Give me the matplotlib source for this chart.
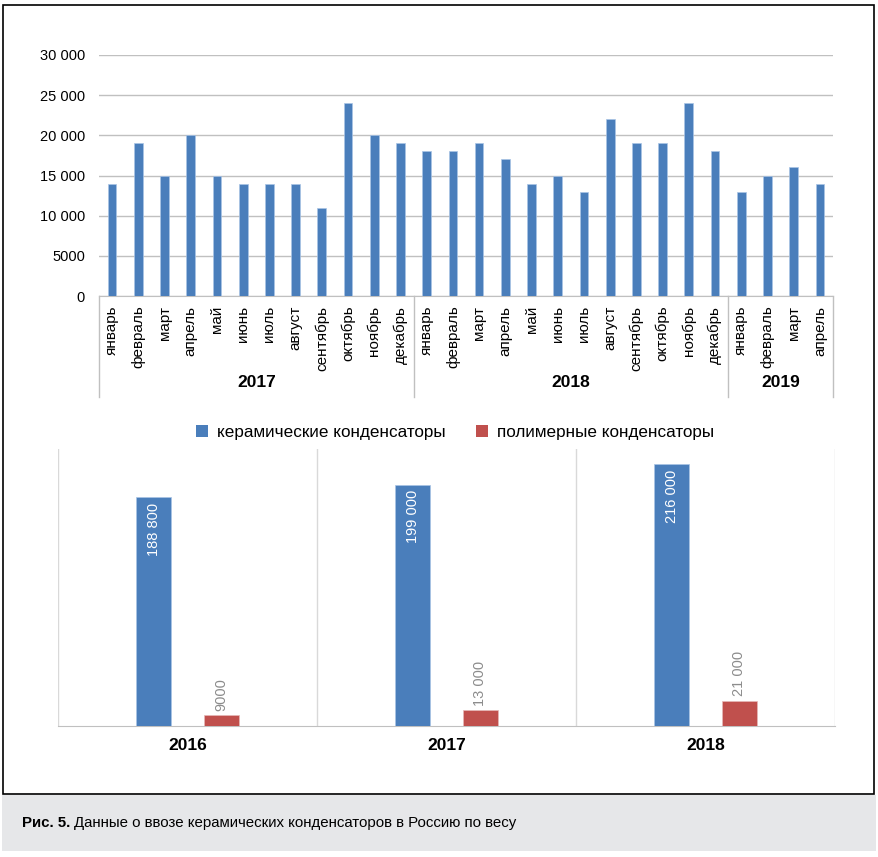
import matplotlib
matplotlib.use("Agg")
import matplotlib.pyplot as plt
from matplotlib.patches import Rectangle, Patch
from matplotlib.lines import Line2D

plt.rcParams['font.family'] = ['Liberation Sans', 'DejaVu Sans']

# Monthly import data (top chart)
months = ["январь", "февраль", "март", "апрель", "май", "июнь", "июль", "август",
          "сентябрь", "октябрь", "ноябрь", "декабрь",
          "январь", "февраль", "март", "апрель", "май", "июнь", "июль", "август",
          "сентябрь", "октябрь", "ноябрь", "декабрь",
          "январь", "февраль", "март", "апрель"]
monthly_values = [14000, 19000, 15000, 20000, 15000, 14000, 14000, 14000, 11000, 24000, 20000, 19000,
                  18000, 18000, 19000, 17000, 14000, 15000, 13000, 22000, 19000, 19000, 24000, 18000,
                  13000, 15000, 16000, 14000]
year_groups = ["2017", "2018", "2019"]
year_sizes = [12, 12, 4]
y_ticks = [0, 5000, 10000, 15000, 20000, 25000, 30000]
y_tick_labels = ["0", "5000", "10 000", "15 000", "20 000", "25 000", "30 000"]

# Yearly data (bottom chart)
years = ["2016", "2017", "2018"]
ceramic = [188800, 199000, 216000]
polymer = [9000, 13000, 21000]
ceramic_labels = ["188 800", "199 000", "216 000"]
polymer_labels = ["9000", "13 000", "21 000"]

blue = "#4a7ebb"
red = "#c0504d"
grid_col = "#c0c0c0"

W, H = 879, 857
fig = plt.figure(figsize=(W / 100, H / 100), dpi=100)


def fx(px):
    return px / W


def fy(py):
    return 1 - py / H


# frame and caption strip
fig.patches.append(Rectangle((fx(2), fy(851)), fx(874), 56 / H, transform=fig.transFigure,
                             facecolor="#e6e7e9", edgecolor="none", zorder=-2))
fig.patches.append(Rectangle((fx(3), fy(794)), fx(871), 789 / H, transform=fig.transFigure,
                             facecolor="white", edgecolor="black", linewidth=1.2, zorder=-1))

# ---- top chart ----
ax1 = fig.add_axes([fx(99), fy(296), fx(833 - 99), (296 - 55) / H])
ax1.patch.set_alpha(0)
x = list(range(len(monthly_values)))
ax1.bar(x, monthly_values, width=0.33, color=blue, edgecolor="#a9c4e6", linewidth=0.5, zorder=3)
ax1.set_xlim(-0.5, len(monthly_values) - 0.5)
ax1.set_ylim(0, 30000)
ax1.set_yticks(y_ticks)
ax1.set_yticklabels(y_tick_labels, fontsize=10.5)
ax1.yaxis.grid(True, color=grid_col, linewidth=1.0, zorder=0)
ax1.set_axisbelow(True)
ax1.tick_params(axis="y", length=0, pad=10)
ax1.set_xticks(x)
ax1.set_xticklabels(months, rotation=90, fontsize=11, va="top")
ax1.tick_params(axis="x", length=0, pad=7)
for s in ["top", "right", "left"]:
    ax1.spines[s].set_visible(False)
ax1.spines["bottom"].set_color(grid_col)

# group separators and year labels
trans = ax1.get_xaxis_transform()
start = -0.5
edges = [start]
for n in year_sizes:
    edges.append(edges[-1] + n)
for e in edges:
    ax1.add_line(Line2D([e, e], [0, -0.419], transform=trans, color=grid_col,
                        linewidth=1.0, clip_on=False))
for i, name in enumerate(year_groups):
    mid = (edges[i] + edges[i + 1]) / 2
    ax1.text(mid, -0.36, name, transform=trans, ha="center", va="center",
             fontsize=12.5, fontweight="bold")

# ---- legend ----
handles = [Patch(facecolor=blue, label="керамические конденсаторы"),
           Patch(facecolor=red, label="полимерные конденсаторы")]
fig.legend(handles=handles, loc="center", bbox_to_anchor=(fx(455), fy(432)), ncol=2,
           frameon=False, fontsize=12.3, handlelength=0.7, handleheight=0.7,
           handletextpad=0.5, columnspacing=1.8)

# ---- bottom chart ----
ax2 = fig.add_axes([fx(58), fy(726), fx(835 - 58), (726 - 449) / H])
ax2.patch.set_alpha(0)
xs = list(range(len(years)))
off = 0.13
bw = 0.135
ax2.bar([v - off for v in xs], ceramic, width=bw, color=blue, edgecolor="#a9c4e6",
        linewidth=0.5, zorder=3)
ax2.bar([v + off for v in xs], polymer, width=bw, color=red, edgecolor="#e6b9b8",
        linewidth=0.5, zorder=3)
ax2.set_xlim(-0.5, len(years) - 0.5)
ax2.set_ylim(0, 228400)
ax2.set_yticks([])
ax2.set_xticks(xs)
ax2.set_xticklabels(years, fontsize=12.5, fontweight="bold")
ax2.tick_params(axis="x", length=0, pad=9)
for s in ["top", "right", "left"]:
    ax2.spines[s].set_visible(False)
ax2.spines["bottom"].set_color(grid_col)
for e in [-0.5, 0.5, 1.5, 2.5]:
    ax2.axvline(e, color="#d9d9d9", linewidth=1.0, zorder=0)
for i in xs:
    ax2.text(i - off, ceramic[i] - 4500, ceramic_labels[i], rotation=90, ha="center",
             va="top", color="white", fontsize=10.5, zorder=4)
    ax2.text(i + off, polymer[i] + 3500, polymer_labels[i], rotation=90, ha="center",
             va="bottom", color="#8c8c8c", fontsize=10.5, zorder=4)

# ---- caption ----
cap_y = fy(823)
t = fig.text(fx(22), cap_y, "Рис. 5.", fontsize=10.8, fontweight="bold", va="center")
fig.canvas.draw()
bb = t.get_window_extent()
fig.text(bb.x1 / W + fx(4), cap_y, "Данные о ввозе керамических конденсаторов в Россию по весу",
         fontsize=10.8, va="center")

fig.savefig("out.png", dpi=100)
